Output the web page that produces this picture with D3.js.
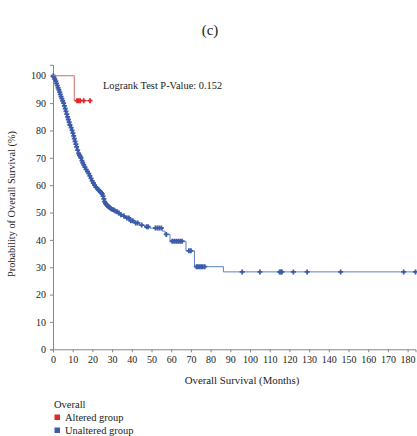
<!DOCTYPE html>
<html>
<head>
<meta charset="utf-8">
<script src="https://cdn.jsdelivr.net/npm/d3@7"></script>
<style>
  body { margin:0; background:#fff; }
  text { font-family: "Liberation Serif", "DejaVu Serif", serif; fill:#222; }
</style>
</head>
<body>
<div id="plot"></div>
<script>
// data
var yTicks = [0,10,20,30,40,50,60,70,80,90,100];
var xTicks = [0,10,20,30,40,50,60,70,80,90,100,110,120,130,140,150,160,170,180];

// altered group: step times and survival (%)
var altTimes = [0, 10.8];
var altSurv = [100, 90.9];
var altCensor = [12.2, 13.0, 13.8, 15.6, 18.8];
var altEnd = 18.8;

// unaltered group
var unTimes = [0, 0.3, 0.7, 1.2, 1.6, 2, 2.4, 2.8, 3.2, 3.5, 3.9, 4.3, 4.7, 5.2, 5.6, 6, 6.4, 6.8, 7.2, 7.6, 8, 8.4, 8.9, 9.5, 9.9, 10.3, 10.6, 11, 11.4, 11.8, 12.3, 12.8, 13.2, 13.6, 14, 14.5, 14.9, 15.4, 15.9, 16.5, 17.2, 17.9, 18.4, 19, 19.6, 20.2, 20.8, 21.5, 22.1, 22.8, 23.3, 23.9, 24.3, 24.8, 25.2, 25.6, 26, 26.4, 26.8, 27.3, 27.7, 28.2, 28.7, 29.2, 29.9, 30.6, 31.3, 32, 33, 34, 35.5, 37, 39, 41, 44, 46.5, 49.2, 55.5, 56.9, 59.4, 67.5, 71.8, 86.5];
var unSurv = [100, 99.4, 98.8, 98, 97.2, 96.4, 95.6, 94.8, 94, 93.2, 92.4, 91.6, 90.8, 90, 89, 88, 87, 86, 85, 84, 83, 82, 81, 80, 79, 78, 77, 76, 75, 74, 72.8, 71.6, 71, 70.5, 70, 69, 68.2, 67.4, 66.6, 65.8, 65, 64.2, 63.4, 62.5, 61.6, 60.8, 60, 59.3, 58.8, 58.3, 57.9, 57.5, 57.2, 56.8, 56, 55, 54, 53.4, 53, 52.6, 52.3, 52, 51.7, 51.4, 51.1, 50.9, 50.6, 50.3, 49.8, 49.2, 48.7, 48, 47, 46.2, 45.4, 44.8, 44.3, 43.2, 42, 39.5, 36, 30.2, 28.3];
var unCensor = [0.2,0.5,0.9,1.4,1.8,2.2,2.6,3,3.4,3.7,4.1,4.5,4.9,5.4,5.8,6.2,6.6,7,7.4,7.8,8.2,8.6,9.2,9.7,10.1,10.5,10.8,11.2,11.6,12,12.5,13,13.4,13.8,14.2,14.7,15.1,15.6,16.2,16.8,17.5,18.2,18.7,19.3,19.9,20.5,21.1,21.8,22.4,23,23.6,24.1,24.6,25,25.4,25.8,26.2,26.6,27,27.5,28,28.4,28.9,29.5,30.2,30.9,31.6,32.5,33.4,34.5,36,37.5,38.5,39.5,40.5,42,43,45,47.5,48.3,52,53,54,55,57.5,60.5,61.5,62.5,63.5,64.5,65.5,69,70,72.8,73.6,74.4,75.2,76,77,96,105,115,115.6,116.2,122,129,146,178,184];
var unEnd = 184;

var legendNames = ['Altered group', 'Unaltered group'];
var colors = ['#e3262b', '#3b5ba8'];
var lineColors = ['#d06a6a', '#5a80c6'];

var W = 417, H = 436;
var svg = d3.select('#plot').append('svg')
  .attr('width', W).attr('height', H);

var x = d3.scaleLinear().domain([0,184]).range([53,415.5]);
var y = d3.scaleLinear().domain([0,104]).range([349.3,64.8]);

// title
svg.append('text').attr('x',210).attr('y',35).attr('text-anchor','middle')
  .style('font-size','15px').text('(c)');

// axes
var xAxis = svg.append('g').attr('transform','translate(0,'+y(0)+')')
  .call(d3.axisBottom(x).tickValues(xTicks).tickSize(3).tickPadding(4).tickFormat(d3.format('d')));
var yAxis = svg.append('g').attr('transform','translate('+x(0)+',0)')
  .call(d3.axisLeft(y).tickValues(yTicks).tickSize(3).tickPadding(4).tickFormat(d3.format('d')));
[xAxis, yAxis].forEach(function(a){
  a.select('.domain').attr('stroke','#888');
  a.selectAll('.tick line').attr('stroke','#888');
  a.selectAll('.tick text').style('font-size','10px').attr('fill','#222')
    .style('font-family','"Liberation Serif", serif');
});

// axis labels
svg.append('text').attr('x',242).attr('y',384).attr('text-anchor','middle')
  .style('font-size','10.8px').text('Overall Survival (Months)');
svg.append('text').attr('transform','translate(15,204) rotate(-90)')
  .attr('text-anchor','middle').style('font-size','10.3px')
  .text('Probability of Overall Survival (%)');

// step curve builder
function stepPoints(times, surv, end){
  var pts = times.map(function(t,i){ return [t, surv[i]]; });
  pts.push([end, surv[surv.length-1]]);
  return pts;
}
function survAt(times, surv, t){
  var s = surv[0];
  for (var i = 0; i < times.length; i++){ if (times[i] <= t) s = surv[i]; }
  return s;
}
var line = d3.line().x(function(d){ return x(d[0]); }).y(function(d){ return y(d[1]); })
  .curve(d3.curveStepAfter);

function drawGroup(times, surv, censor, end, lc, mc){
  svg.append('path').datum(stepPoints(times, surv, end))
    .attr('d', line).attr('fill','none').attr('stroke', lc).attr('stroke-width',1);
  var g = svg.append('g');
  censor.forEach(function(t){
    var cx = x(t), cy = y(survAt(times, surv, t));
    g.append('path')
      .attr('d','M'+(cx-2.5)+','+cy+'H'+(cx+2.5)+'M'+cx+','+(cy-2.5)+'V'+(cy+2.5))
      .attr('stroke', mc).attr('stroke-width',1.8);
  });
}
drawGroup(unTimes, unSurv, unCensor, unEnd, lineColors[1], colors[1]);
drawGroup(altTimes, altSurv, altCensor, altEnd, lineColors[0], colors[0]);

// p value
svg.append('text').attr('x',103).attr('y',88.5).style('font-size','10.4px')
  .text('Logrank Test P-Value: 0.152');

// legend
svg.append('text').attr('x',54).attr('y',407.5).style('font-size','10.5px').text('Overall');
legendNames.forEach(function(n,i){
  svg.append('rect').attr('x',54.5).attr('y',414.5 + i*13).attr('width',5.5).attr('height',5.5)
    .attr('fill', colors[i]);
  svg.append('text').attr('x',65).attr('y',420.8 + i*13).style('font-size','10.5px').text(n);
});
</script>
</body>
</html>
